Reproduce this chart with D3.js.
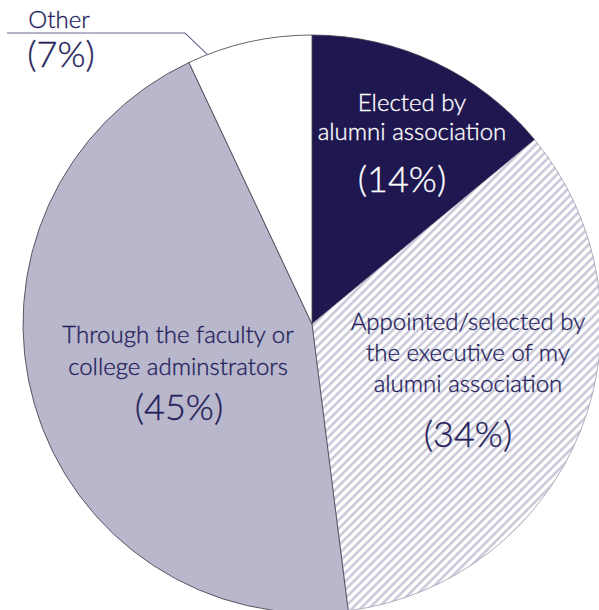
<!DOCTYPE html>
<html>
<head>
<meta charset="utf-8">
<script src="https://cdn.jsdelivr.net/npm/d3@7"></script>
<style>
  html, body { margin: 0; padding: 0; background: #fff; }
  svg { display: block; }
  text { font-family: Lato, "Open Sans", sans-serif; font-weight: 300; }
</style>
</head>
<body>
<svg id="chart" width="599" height="610"></svg>
<script>
// How alumni representatives are chosen (share of respondents)
const categories = [
  "Elected by alumni association",
  "Appointed/selected by the executive of my alumni association",
  "Through the faculty or college adminstrators",
  "Other"
];
const values = [14, 34, 45, 7];
const labelLines = [
  ["Elected by", "alumni association"],
  ["Appointed/selected by", "the executive of my", "alumni association"],
  ["Through the faculty or", "college adminstrators"],
  ["Other"]
];

const W = 599, H = 610;
const cx = 312, cy = 324, R = 289;
const navy = "#1f1850";
const textNavy = "#251e5c";
const lilac = "#b9b7cb";

const svg = d3.select("#chart");
const defs = svg.append("defs");
const pat = defs.append("pattern")
  .attr("id", "hatch")
  .attr("patternUnits", "userSpaceOnUse")
  .attr("width", 6).attr("height", 6)
  .attr("patternTransform", "rotate(45)");
pat.append("rect").attr("width", 6).attr("height", 6).attr("fill", "#fff");
pat.append("line").attr("x1", 1.5).attr("y1", 0).attr("x2", 1.5).attr("y2", 6)
  .attr("stroke", "#c3c2d4").attr("stroke-width", 2.3);

const fills = [navy, "url(#hatch)", lilac, "#fff"];

const data = categories.map((c, i) => ({ name: c, value: values[i], lines: labelLines[i] }));
const pie = d3.pie().value(d => d.value).sort(null);
const arcs = pie(data);
const arc = d3.arc().innerRadius(0).outerRadius(R);

const g = svg.append("g").attr("transform", `translate(${cx},${cy})`);
g.selectAll("path.slice").data(arcs).join("path")
  .attr("class", "slice")
  .attr("d", arc)
  .attr("fill", (d, i) => fills[i])
  .attr("stroke", (d, i) => i === 1 ? "#9d9cae" : "#3a3a48")
  .attr("stroke-width", 0.8)
  .attr("stroke-linejoin", "round");

// In-slice label layout: offset of the first baseline from the pie centre,
// line spacing, and drop from the last text line to the percentage.
const labelLayout = [
  { dx: 100, dy: -213, gap: 29, pctDx: -10, pctDrop: 52 },
  { dx: 156, dy: 6, gap: 31, pctDx: 0, pctDrop: 55 },
  { dx: -134, dy: 19, gap: 32, pctDx: 1, pctDrop: 45 },
  null
];
const fontSize = 24;
const pctSize = 36;

// a hairline outline in the text colour gives the light face a little more body
function label(x, y, size, col, t) {
  svg.append("text")
    .attr("x", x).attr("y", y)
    .attr("text-anchor", "middle")
    .attr("font-size", size)
    .attr("fill", col)
    .attr("stroke", col)
    .attr("stroke-width", 0.35)
    .text(t);
}

arcs.forEach((d, i) => {
  const L = labelLayout[i];
  if (!L) return;
  const x = cx + L.dx, y0 = cy + L.dy;
  const col = i === 0 ? "#ffffff" : textNavy;
  const lines = d.data.lines;
  lines.forEach((t, j) => label(x, y0 + j * L.gap, fontSize, col, t));
  label(x + L.pctDx, y0 + (lines.length - 1) * L.gap + L.pctDrop, pctSize, col, `(${d.data.value}%)`);
});

// "Other" is labelled outside the pie with a leader line
const other = arcs[3];
const tipA = other.startAngle + 0.07;
const ex = cx + R * Math.sin(tipA), ey = cy - R * Math.cos(tipA);
svg.append("polyline")
  .attr("points", `7,33 185,33 ${ex},${ey}`)
  .attr("fill", "none")
  .attr("stroke", "#6a6694")
  .attr("stroke-width", 1.1);
label(59, 28, fontSize, textNavy, other.data.lines[0]);
label(61, 67, pctSize, textNavy, `(${other.data.value}%)`);
</script>
</body>
</html>
